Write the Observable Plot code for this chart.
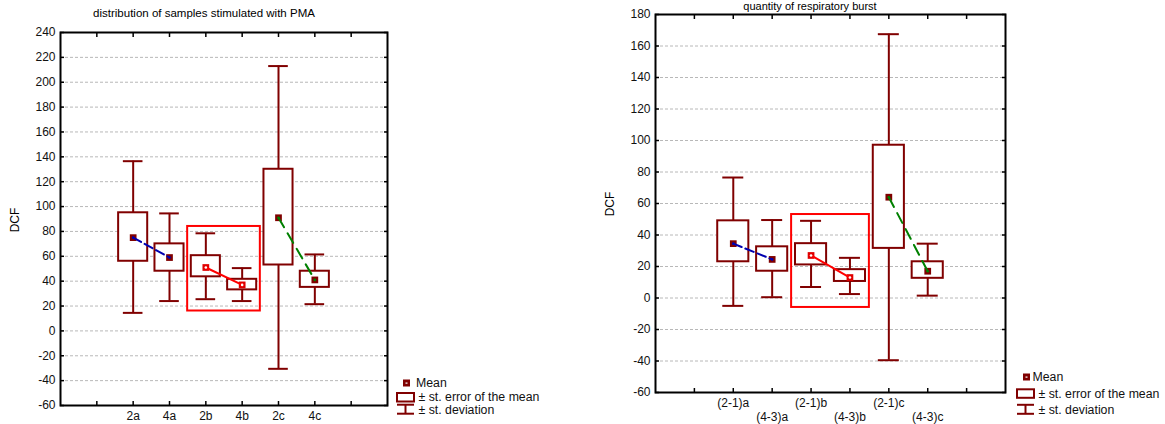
<!DOCTYPE html>
<html><head><meta charset="utf-8">
<script src="https://cdn.jsdelivr.net/npm/d3@7"></script>
<script src="https://cdn.jsdelivr.net/npm/@observablehq/plot@0.6"></script>
<style>
body{margin:0;background:#fff;overflow:hidden}
#c{position:relative;width:1165px;height:424px;font-family:"Liberation Sans",Arial,sans-serif;color:#000;overflow:hidden;background:#fff}
.abs{position:absolute;white-space:nowrap}
</style></head><body><div id="c"></div>
<script>
// ---------- data: left panel ----------
const titleL = "distribution of samples stimulated with PMA";
const catsL  = ["2a", "4a", "2b", "4b", "2c", "4c"];
const meanL  = [75, 59, 51, 37, 91, 41];
const seLoL  = [56, 48, 43.5, 33, 53, 35];
const seHiL  = [95, 70, 60.5, 41.5, 130, 48];
const sdLoL  = [14.5, 24, 25.5, 24, -30.5, 21.5];
const sdHiL  = [136.5, 94.5, 78.5, 50.5, 213, 61.5];
const yTicksL = [-60, -40, -20, 0, 20, 40, 60, 80, 100, 120, 140, 160, 180, 200, 220, 240];
const highlightYL = [16, 84];

// ---------- data: right panel ----------
const titleR = "quantity of respiratory burst";
const catsR  = ["(2-1)a", "(4-3)a", "(2-1)b", "(4-3)b", "(2-1)c", "(4-3)c"];
const meanR  = [34.5, 24.5, 27, 13, 64, 17];
const seLoR  = [23, 17, 21, 10.5, 31.5, 12.5];
const seHiR  = [49, 32.5, 34.5, 18, 97, 23];
const sdLoR  = [-5, 0.5, 7, 2.5, -39.5, 1.5];
const sdHiR  = [76.5, 49.5, 49, 25.5, 167.5, 34.5];
const yTicksR = [-60, -40, -20, 0, 20, 40, 60, 80, 100, 120, 140, 160, 180];
const highlightYR = [-6, 53];

// shared
const pairs = ["a", "a", "b", "b", "c", "c"];
const yLabel = "DCF";
const legendLabels = ["Mean", "\u00b1 st. error of the mean", "\u00b1 st. deviation"];

// ---------- styling ----------
const MAROON = "#800000";
const PAIR_COLOR = {a: "#0000b0", b: "#ff0000", c: "#008000"};
const PAIR_DASH = {a: "9,4", b: null, c: "11,7"};
const INNER = {a: "#0000b0", b: "#ffffff", c: "#008000"};
const FONT = "'Liberation Sans', Arial, sans-serif";

const container = document.getElementById("c");

function rowsOf(cats, mean, seLo, seHi, sdLo, sdHi) {
  return cats.map((c, i) => ({cat: c, pos: i + 2, mean: mean[i], seLo: seLo[i], seHi: seHi[i],
    sdLo: sdLo[i], sdHi: sdHi[i], pair: pairs[i]}));
}

function panel(o) {
  const rows = rowsOf(o.cats, o.mean, o.seLo, o.seHi, o.sdLo, o.sdHi);
  const hb = rows.filter(d => d.pair === "b");
  const hl = [{x1: d3.min(hb, d => d.pos) - 0.5, x2: d3.max(hb, d => d.pos) + 0.5, y1: o.hlY[0], y2: o.hlY[1]}];
  const nSlots = o.cats.length + 3;
  const xTicks = d3.range(1, nSlots);
  const catTicks = rows.map(d => d.pos);
  const fmtCat = p => o.cats[p - 2];
  const empty = () => "";
  const marks = [
    Plot.gridY(o.yTicks, {stroke: "#b8b8b8", strokeOpacity: 1, strokeDasharray: "3,2", strokeWidth: 1}),
    Plot.ruleX(rows, {x: "pos", y1: "sdLo", y2: "sdHi", stroke: MAROON, strokeWidth: 2}),
    Plot.ruleY(rows, {y: "sdHi", x1: d => d.pos - 0.27, x2: d => d.pos + 0.27, stroke: MAROON, strokeWidth: 2}),
    Plot.ruleY(rows, {y: "sdLo", x1: d => d.pos - 0.27, x2: d => d.pos + 0.27, stroke: MAROON, strokeWidth: 2}),
    Plot.rect(rows, {x1: d => d.pos - 0.4, x2: d => d.pos + 0.4, y1: "seLo", y2: "seHi", fill: "white", stroke: MAROON, strokeWidth: 2}),
    Plot.rect(hl, {x1: "x1", x2: "x2", y1: "y1", y2: "y2", fill: "none", stroke: "#ff0000", strokeWidth: 2}),
    Plot.dot(rows, {x: "pos", y: "mean", symbol: "square", r: 3.8, fill: d => d.pair === "b" ? "#e00000" : MAROON, stroke: "none"}),
    ...["a", "b", "c"].map(p => Plot.line(rows.filter(d => d.pair === p), {x: "pos", y: "mean", stroke: PAIR_COLOR[p], strokeWidth: 2, strokeDasharray: PAIR_DASH[p]})),
    Plot.dot(rows, {x: "pos", y: "mean", r: 1.3, fill: d => INNER[d.pair], stroke: "none"}),
    Plot.frame({stroke: "black", strokeWidth: 2}),
    Plot.axisX(xTicks, {anchor: "bottom", tickSize: -4, tickFormat: empty, label: null, stroke: "black", strokeWidth: 1.5}),
    Plot.axisX(xTicks, {anchor: "top", tickSize: -4, tickFormat: empty, label: null, stroke: "black", strokeWidth: 1.5}),
    Plot.axisY(o.yTicks, {anchor: "left", tickSize: -4, tickFormat: empty, label: null, stroke: "black", strokeWidth: 1.5}),
    Plot.axisY(o.yTicks, {anchor: "right", tickSize: -4, tickFormat: empty, label: null, stroke: "black", strokeWidth: 1.5}),
    Plot.axisY(o.yTicks, {anchor: "left", tickSize: 0, tickPadding: 5, tickFormat: d => String(d), label: null, fill: "#111"})
  ];
  if (o.stagger) {
    marks.push(Plot.axisX(catTicks.filter((d, i) => i % 2 === 0), {anchor: "bottom", tickSize: 0, tickPadding: 6, tickFormat: fmtCat, label: null, fill: "#111"}));
    marks.push(Plot.axisX(catTicks.filter((d, i) => i % 2 === 1), {anchor: "bottom", tickSize: 0, tickPadding: 20, tickFormat: fmtCat, label: null, fill: "#111"}));
  } else {
    marks.push(Plot.axisX(catTicks, {anchor: "bottom", tickSize: 0, tickPadding: 6, tickFormat: fmtCat, label: null, fill: "#111"}));
  }
  const svg = Plot.plot({
    width: o.width, height: 424,
    marginLeft: o.ml, marginRight: o.mr, marginTop: o.mt, marginBottom: o.mb,
    x: {domain: [0, nSlots], label: null},
    y: {domain: [o.yTicks[0], o.yTicks[o.yTicks.length - 1]], label: null},
    style: {fontFamily: FONT, fontSize: "12px", background: "transparent", overflow: "visible"},
    marks
  });
  svg.style.position = "absolute";
  svg.style.left = o.left + "px";
  svg.style.top = "0px";
  container.appendChild(svg);
}

function addText(txt, css) {
  const d = document.createElement("div");
  d.className = "abs";
  d.textContent = txt;
  Object.assign(d.style, css);
  container.appendChild(d);
  return d;
}

function legend(x0, yMean, yBox, ySd, meanTextDx) {
  const ns = "http://www.w3.org/2000/svg";
  const svg = document.createElementNS(ns, "svg");
  const top = yMean - 8, w = 170, h = ySd - top + 10;
  svg.setAttribute("width", w); svg.setAttribute("height", h);
  Object.assign(svg.style, {position: "absolute", left: x0 + "px", top: top + "px", overflow: "visible"});
  const ym = yMean - top, yb = yBox - top, ys = ySd - top;
  svg.innerHTML = `
    <rect x="7" y="${ym - 3.5}" width="7" height="7" fill="${MAROON}"/>
    <rect x="9.5" y="${ym - 0.5}" width="2" height="1.2" fill="#fff"/>
    <rect x="1" y="${yb - 4}" width="17" height="8.5" fill="#fff" stroke="${MAROON}" stroke-width="2"/>
    <line x1="1" x2="18" y1="${ys - 4.5}" y2="${ys - 4.5}" stroke="${MAROON}" stroke-width="2"/>
    <line x1="9.5" x2="9.5" y1="${ys - 4.5}" y2="${ys + 4.5}" stroke="${MAROON}" stroke-width="2"/>
    <line x1="1" x2="18" y1="${ys + 4.5}" y2="${ys + 4.5}" stroke="${MAROON}" stroke-width="2"/>
    <g font-family="${FONT}" font-size="12.3" fill="#111">
      <text x="${10.5 + meanTextDx}" y="${ym + 4.3}">${legendLabels[0]}</text>
      <text x="22.5" y="${yb + 4.3}">${legendLabels[1]}</text>
      <text x="22.5" y="${ys + 4.3}">${legendLabels[2]}</text>
    </g>`;
  container.appendChild(svg);
}

// left panel
panel({cats: catsL, mean: meanL, seLo: seLoL, seHi: seHiL, sdLo: sdLoL, sdHi: sdHiL,
  yTicks: yTicksL, hlY: highlightYL, width: 400, left: 0, ml: 60, mr: 13, mt: 32, mb: 19, stagger: false});
// right panel
panel({cats: catsR, mean: meanR, seLo: seLoR, seHi: seHiR, sdLo: sdLoR, sdHi: sdHiR,
  yTicks: yTicksR, hlY: highlightYR, width: 430, left: 590, ml: 65, mr: 15, mt: 14, mb: 32, stagger: true});

// titles
addText(titleL, {left: "0px", width: "408px", textAlign: "center", top: "7px", fontSize: "11.5px", lineHeight: "13px"});
addText(titleR, {left: "610px", width: "400px", textAlign: "center", top: "0px", fontSize: "11px", lineHeight: "12px"});
// y labels
addText(yLabel, {left: "15px", top: "220px", fontSize: "12px", lineHeight: "14px", transform: "translate(-50%,-50%) rotate(-90deg)"});
addText(yLabel, {left: "610px", top: "204px", fontSize: "12px", lineHeight: "14px", transform: "translate(-50%,-50%) rotate(-90deg)"});

// legends
legend(396, 382.5, 396.5, 408.7, 9.5);
legend(1016, 376.7, 393, 409, 6);
</script></body></html>
